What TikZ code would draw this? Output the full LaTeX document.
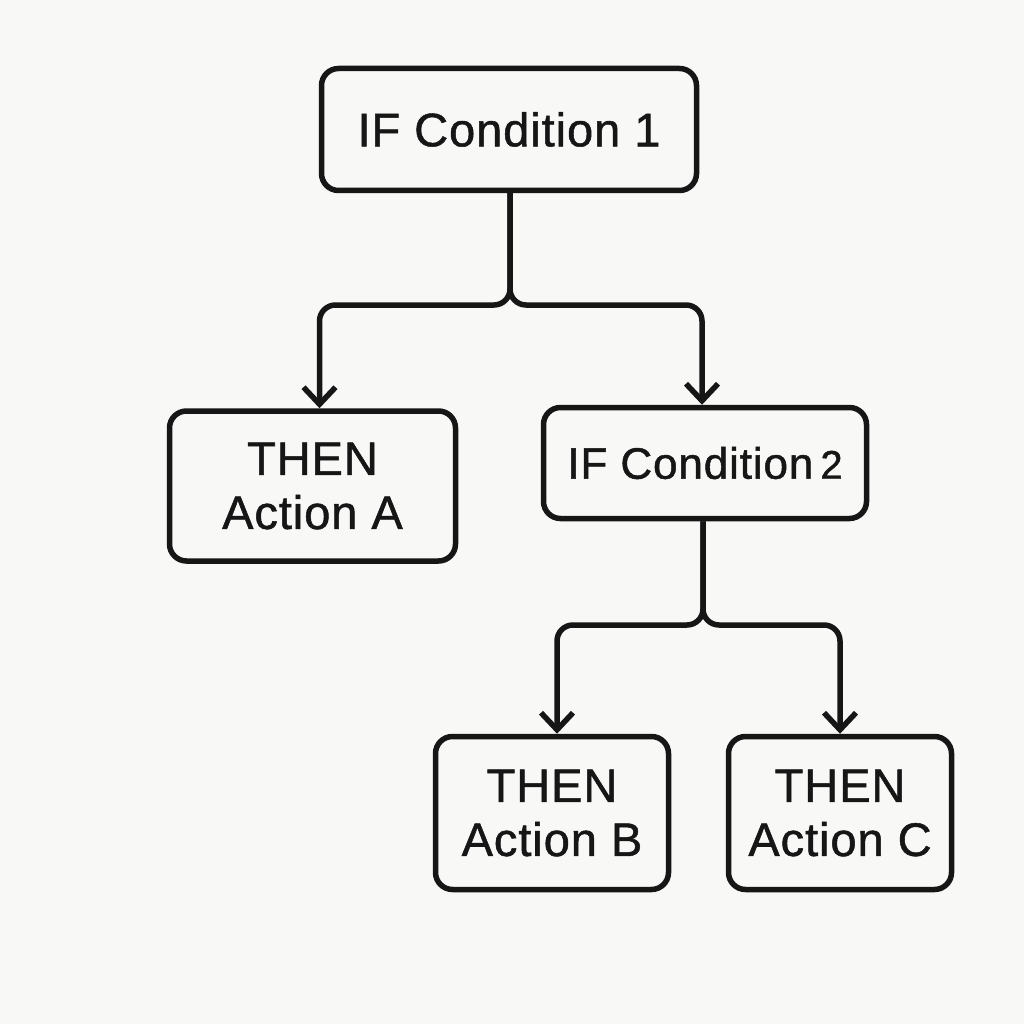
\documentclass[tikz,border=0pt]{standalone}
\usepackage{fontspec}
\setmainfont{Liberation Sans}[BoldFont={Liberation Sans},BoldFeatures={FakeBold=1.1,LetterSpace=2}]
\usetikzlibrary{arrows.meta}
\definecolor{bg}{HTML}{F8F8F7}
\definecolor{ink}{HTML}{161616}
\tikzset{
  box/.style={draw=ink, line width=5.5pt, rounded corners=17pt, text=ink, align=center, inner sep=0pt},
  conn/.style={draw=ink, line width=5.5pt, rounded corners=16pt, -{Straight Barb[length=17pt,width=32pt,line width=5.5pt]}},
}
\begin{document}
\begin{tikzpicture}[x=1pt,y=-1pt]
\fill[bg] (0,0) rectangle (1024,1024);
\useasboundingbox (0,0) rectangle (1024,1024);
\node[box, minimum width=375pt, minimum height=122pt, font=\fontsize{47}{54}\selectfont\bfseries] (c1) at (509,129.5) {IF Condition 1};
\node[box, minimum width=286pt, minimum height=150pt, font=\fontsize{47}{54}\selectfont\bfseries] (a) at (312.5,486) {THEN\\Action A};
\node[box, minimum width=323pt, minimum height=111pt, font=\fontsize{44}{54}\selectfont\bfseries] (c2) at (705,463) {IF Condition\hspace{7pt}{\fontsize{40}{54}\selectfont 2}};
\node[box, minimum width=233pt, minimum height=153pt, font=\fontsize{47}{54}\selectfont\bfseries] (b) at (552,813) {THEN\\Action B};
\node[box, minimum width=223pt, minimum height=153pt, font=\fontsize{47}{54}\selectfont\bfseries] (c) at (840,813) {THEN\\Action C};
\coordinate (s1) at (510,305);
\coordinate (s2) at (703,625);
\draw[conn] (c1.south -| s1) -- (s1) -| ([xshift=7pt]a.north);
\draw[conn] (c1.south -| s1) -- (s1) -| ([xshift=-3pt]c2.north);
\draw[conn] (c2.south -| s2) -- (s2) -| ([xshift=5pt]b.north);
\draw[conn] (c2.south -| s2) -- (s2) -| (c.north);
\end{tikzpicture}
\end{document}
